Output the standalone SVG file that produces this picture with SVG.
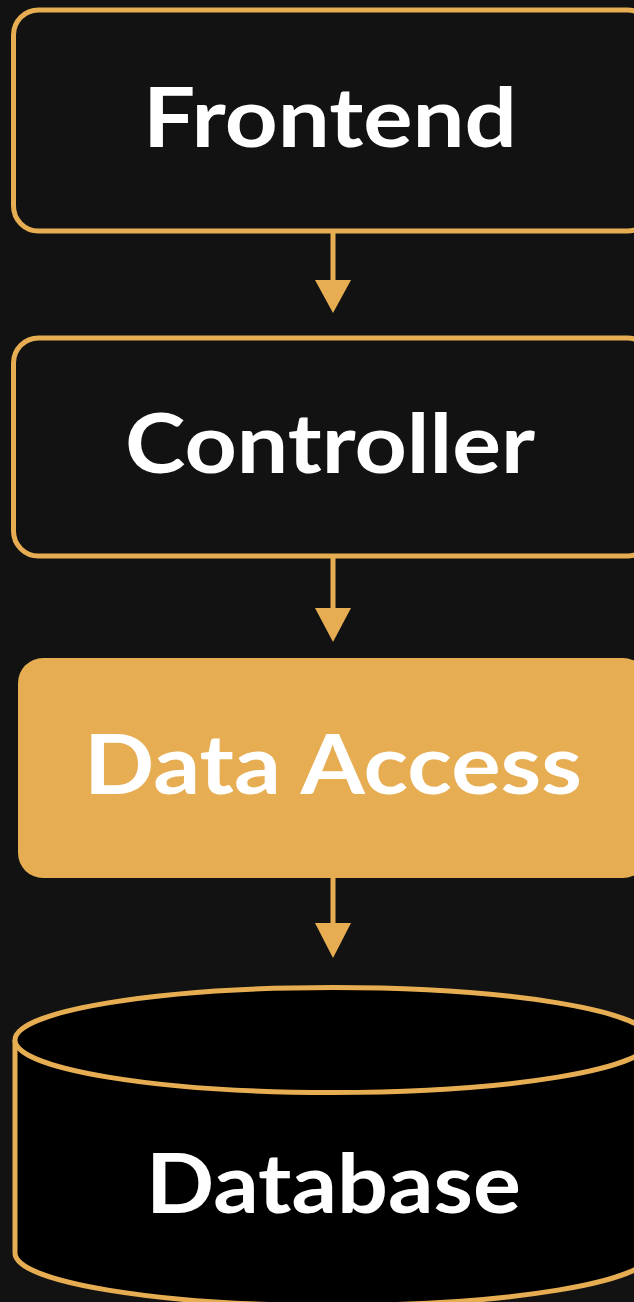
<svg xmlns="http://www.w3.org/2000/svg" width="634" height="1302" viewBox="0 0 634 1302">
  <style>
    .box { fill: #121212; stroke: #E6AD52; stroke-width: 5; }
    .solid { fill: #E6AD52; }
    .cyl { fill: #000000; stroke: #E6AD52; stroke-width: 5; }
    .lbl { font-family: Lato, "Open Sans", "Liberation Sans", sans-serif; font-weight: 700; font-size: 82px; fill: #FFFFFF; }
    .conn line { stroke: #E6AD52; stroke-width: 5; }
    .conn polygon { fill: #E6AD52; }
  </style>
  <rect x="0" y="0" width="634" height="1302" fill="#121212"/>

  <g id="frontend">
    <rect class="box" x="13.5" y="10" width="639" height="221" rx="25" ry="25"/>
    <text class="lbl" x="143" y="147" textLength="374" lengthAdjust="spacingAndGlyphs">Frontend</text>
  </g>

  <g id="controller">
    <rect class="box" x="13.5" y="338" width="639" height="218" rx="25" ry="25"/>
    <text class="lbl" x="125" y="473" textLength="410" lengthAdjust="spacingAndGlyphs">Controller</text>
  </g>

  <g id="data-access">
    <rect class="solid" x="18" y="658" width="630" height="220" rx="25" ry="25"/>
    <text class="lbl" x="84" y="794" textLength="498" lengthAdjust="spacingAndGlyphs">Data Access</text>
  </g>

  <g id="database">
    <path class="cyl" d="M15,1040 L15,1253 A318,52.5 0 0 0 651,1253 L651,1040"/>
    <ellipse class="cyl" cx="333" cy="1040" rx="318" ry="52.5"/>
    <text class="lbl" x="146" y="1213" textLength="375" lengthAdjust="spacingAndGlyphs">Database</text>
  </g>

  <g id="connectors" class="conn">
    <line x1="333" y1="233" x2="333" y2="282"/>
    <polygon points="315,280 351,280 333,313"/>
    <line x1="333" y1="558" x2="333" y2="610"/>
    <polygon points="315,608 351,608 333,642"/>
    <line x1="333" y1="878" x2="333" y2="925"/>
    <polygon points="315,923 351,923 333,958"/>
  </g>
</svg>
